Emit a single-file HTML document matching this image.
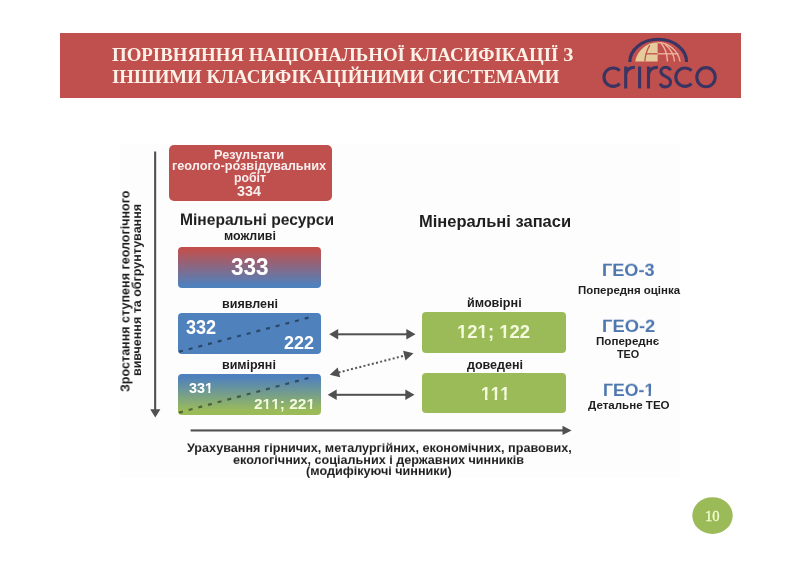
<!DOCTYPE html>
<html><head><meta charset="utf-8"><style>
html,body{margin:0;padding:0;background:#fff;}
body{width:800px;height:565px;position:relative;overflow:hidden;font-family:"Liberation Sans",sans-serif;}
.t{position:absolute;white-space:nowrap;line-height:1;will-change:transform;}
.r{position:absolute;}
</style></head><body>
<div class="r" style="left:60px;top:33px;width:681px;height:65px;background:#c0504d;"></div>
<svg class="r" style="left:0;top:0" width="800" height="565" viewBox="0 0 800 565">
 <!-- logo dome -->
 <path d="M635.2,61.5 A22.7,22.7 0 0 1 657.6,42.6 L657.6,61.5 Z" fill="#e6cc9c"/>
 <g fill="none" stroke-width="1.3">
  <path d="M649.8,45.2 Q645.6,52 644.8,61.5" stroke="#c0504d"/>
  <path d="M645.5,53.8 L657.6,53.8" stroke="#c0504d"/>
  <path d="M657.6,42.6 A22.7,22.7 0 0 1 680.1,61.5" stroke="#efb7a0"/>
  <path d="M661,43 Q667,50 667.5,61.5" stroke="#efb7a0"/>
  <path d="M665,44.3 Q673.5,51 674.5,61.5" stroke="#efb7a0"/>
  <path d="M657.6,53.8 L678.3,53.8" stroke="#efb7a0"/>
 </g>
 <path d="M629.8,62 A28.4,22.75 0 0 1 686.6,62" fill="none" stroke="#3a3462" stroke-width="3.2"/>
 <!-- crirsco -->
 <g fill="none" stroke="#3a3462" stroke-width="3.1" stroke-linecap="butt">
  <path d="M619.7,70.7 A9.2,9.2 0 1 0 619.7,83.7"/>
  <path d="M625.7,88.4 L625.7,66.5 M625.7,74.5 C626.6,69 629.6,67.4 634.8,67.4"/>
  <path d="M639.6,88.4 L639.6,66.5"/>
  <path d="M648.5,88.4 L648.5,66.5 M648.5,74.5 C649.4,69 652.4,67.4 657.8,67.4"/>
  <path d="M670.6,70.2 C669.3,68 667.6,67.3 665.6,67.3 C662.6,67.3 660.9,69.2 660.9,71.6 C660.9,77.2 670.6,75.6 670.6,82 C670.6,85 668.3,86.9 665.3,86.9 C662.7,86.9 660.9,85.5 660.1,83.6"/>
  <path d="M691.5,70.7 A9.2,9.2 0 1 0 691.5,83.7"/>
  <ellipse cx="706" cy="77.2" rx="9.2" ry="9.6"/>
 </g>
</svg>
<div class="r" style="left:120px;top:144px;width:560px;height:333px;background:#fdfdfd;"></div>
<div class="r" style="left:169px;top:144.5px;width:162.5px;height:56px;background:#c0504d;border-radius:5px;"></div>
<div class="r" style="left:178px;top:246.6px;width:143px;height:41px;background:linear-gradient(#c0504d 6%,#4f81bd 94%);border-radius:4px;"></div>
<div class="r" style="left:178px;top:313px;width:143.3px;height:41px;background:#4f81bd;border-radius:4px;"></div>
<div class="r" style="left:178px;top:374px;width:143.3px;height:41px;background:linear-gradient(#4f81bd 8%,#9bbb59 90%);border-radius:4px;"></div>
<div class="r" style="left:422px;top:311.5px;width:144px;height:41.5px;background:#9bbb59;border-radius:4px;"></div>
<div class="r" style="left:422px;top:372.5px;width:144px;height:40.5px;background:#9bbb59;border-radius:4px;"></div>
<svg class="r" style="left:0;top:0" width="800" height="565" viewBox="0 0 800 565">
 <g stroke="rgba(0,0,0,0.45)" stroke-width="2.2" stroke-dasharray="4 6" fill="none">
  <line x1="179" y1="351.8" x2="313" y2="316.5"/>
  <line x1="179" y1="412.6" x2="313" y2="376.8"/>
 </g>
 <g fill="#505050" stroke="none">
  <rect x="154.1" y="151.5" width="2.1" height="259"/>
  <path d="M150.2,409.2 L160.4,409.2 L155.3,417.6 Z"/>
  <rect x="190.6" y="429.4" width="373" height="2.1"/>
  <path d="M562.5,425.8 L571.6,430.45 L562.5,435.1 Z"/>
  <rect x="337" y="333.3" width="70" height="2.0"/>
  <path d="M329.2,334.3 L338.2,329 L338.2,339.6 Z"/>
  <path d="M415.5,334.3 L406.3,329 L406.3,339.6 Z"/>
  <rect x="336" y="393.8" width="70" height="2.0"/>
  <path d="M327.7,394.8 L336.7,389.5 L336.7,400.1 Z"/>
  <path d="M414.5,394.8 L405.3,389.5 L405.3,400.1 Z"/>
  <path d="M329.75,374.7 L337.7,367.5 L340.2,377.2 Z"/>
  <path d="M413.5,353.3 L403.1,350.8 L405.5,360.5 Z"/>
 </g>
 <line x1="338.5" y1="372.5" x2="405" y2="355.5" stroke="#555555" stroke-width="2.0" stroke-dasharray="2 2.3"/>
 <ellipse cx="712.5" cy="515.6" rx="20.2" ry="18.4" fill="#9bbb59"/>
</svg>
<div class="t" style="left:112.00px;top:46.000px;font:700 18.85px/1 'Liberation Serif', serif;color:#fcf1e8;">ПОРІВНЯННЯ НАЦІОНАЛЬНОЇ КЛАСИФІКАЦІЇ З</div>
<div class="t" style="left:112.00px;top:67.600px;font:700 18.83px/1 'Liberation Serif', serif;color:#fcf1e8;">ІНШИМИ КЛАСИФІКАЦІЙНИМИ СИСТЕМАМИ</div>
<div class="t" style="left:213.67px;top:149.400px;font:700 12.70px/1 'Liberation Sans', sans-serif;color:#f8eeee;">Результати</div>
<div class="t" style="left:172.36px;top:160.300px;font:700 12.72px/1 'Liberation Sans', sans-serif;color:#f8eeee;">геолого-розвідувальних</div>
<div class="t" style="left:233.69px;top:172.300px;font:700 12.27px/1 'Liberation Sans', sans-serif;color:#f8eeee;">робіт</div>
<div class="t" style="left:237.20px;top:184.000px;font:700 14.31px/1 'Liberation Sans', sans-serif;color:#f8eeee;transform:scaleY(1.08);transform-origin:0 12.000px;">334</div>
<div class="t" style="left:180.22px;top:211.700px;font:700 15.60px/1 'Liberation Sans', sans-serif;color:#1e1e1e;transform:scaleY(0.96);transform-origin:0 13.000px;">Мінеральні ресурси</div>
<div class="t" style="left:223.58px;top:230.000px;font:700 12.45px/1 'Liberation Sans', sans-serif;color:#1e1e1e;">можливі</div>
<div class="t" style="left:230.50px;top:257.300px;font:700 22.56px/1 'Liberation Sans', sans-serif;color:#ffffff;transform:scaleY(1.07);transform-origin:0 18.000px;">333</div>
<div class="t" style="left:221.57px;top:297.700px;font:700 12.53px/1 'Liberation Sans', sans-serif;color:#1e1e1e;">виявлені</div>
<div class="t" style="left:186.30px;top:318.800px;font:700 18.05px/1 'Liberation Sans', sans-serif;color:#ffffff;transform:scaleY(1.08);transform-origin:0 15.000px;">332</div>
<div class="t" style="left:284.40px;top:334.000px;font:700 18.05px/1 'Liberation Sans', sans-serif;color:#ffffff;transform:scaleY(1.05);transform-origin:0 15.000px;">222</div>
<div class="t" style="left:222.28px;top:358.600px;font:700 12.50px/1 'Liberation Sans', sans-serif;color:#1e1e1e;">виміряні</div>
<div class="t" style="left:188.70px;top:380.500px;font:700 14.38px/1 'Liberation Sans', sans-serif;color:#ffffff;transform:scaleY(1.08);transform-origin:0 12.000px;">33<span style="display:inline-block;clip-path:polygon(0 0,8.00px 0,8.00px 7.88px,5.34px 7.88px,5.34px 14.38px,3.34px 14.38px,3.34px 7.88px,0 7.88px)">1</span></div>
<div class="t" style="left:254.40px;top:396.100px;font:700 15.44px/1 'Liberation Sans', sans-serif;color:#f4fadc;">2<span style="display:inline-block;clip-path:polygon(0 0,8.59px 0,8.59px 8.59px,5.73px 8.59px,5.73px 15.44px,3.59px 15.44px,3.59px 8.59px,0 8.59px)">1</span><span style="display:inline-block;clip-path:polygon(0 0,8.59px 0,8.59px 8.59px,5.73px 8.59px,5.73px 15.44px,3.59px 15.44px,3.59px 8.59px,0 8.59px)">1</span>; 22<span style="display:inline-block;clip-path:polygon(0 0,8.59px 0,8.59px 8.59px,5.73px 8.59px,5.73px 15.44px,3.59px 15.44px,3.59px 8.59px,0 8.59px)">1</span></div>
<div class="t" style="left:418.67px;top:212.700px;font:700 16.51px/1 'Liberation Sans', sans-serif;color:#1e1e1e;">Мінеральні запаси</div>
<div class="t" style="left:467.37px;top:296.600px;font:700 12.61px/1 'Liberation Sans', sans-serif;color:#1e1e1e;">ймовірні</div>
<div class="t" style="left:457.07px;top:322.700px;font:700 18.50px/1 'Liberation Sans', sans-serif;color:#f4fadc;"><span style="display:inline-block;clip-path:polygon(0 0,10.29px 0,10.29px 10.20px,6.87px 10.20px,6.87px 18.50px,4.30px 18.50px,4.30px 10.20px,0 10.20px)">1</span>2<span style="display:inline-block;clip-path:polygon(0 0,10.29px 0,10.29px 10.20px,6.87px 10.20px,6.87px 18.50px,4.30px 18.50px,4.30px 10.20px,0 10.20px)">1</span>; <span style="display:inline-block;clip-path:polygon(0 0,10.29px 0,10.29px 10.20px,6.87px 10.20px,6.87px 18.50px,4.30px 18.50px,4.30px 10.20px,0 10.20px)">1</span>22</div>
<div class="t" style="left:466.60px;top:358.600px;font:700 12.52px/1 'Liberation Sans', sans-serif;color:#1e1e1e;">доведені</div>
<div class="t" style="left:480.93px;top:385.700px;font:700 17.31px/1 'Liberation Sans', sans-serif;color:#f4fadc;transform:scaleY(1.1);transform-origin:0 14.000px;"><span style="display:inline-block;clip-path:polygon(0 0,9.63px 0,9.63px 9.46px,6.43px 9.46px,6.43px 17.31px,4.02px 17.31px,4.02px 9.46px,0 9.46px)">1</span><span style="display:inline-block;clip-path:polygon(0 0,9.63px 0,9.63px 9.46px,6.43px 9.46px,6.43px 17.31px,4.02px 17.31px,4.02px 9.46px,0 9.46px)">1</span><span style="display:inline-block;clip-path:polygon(0 0,9.63px 0,9.63px 9.46px,6.43px 9.46px,6.43px 17.31px,4.02px 17.31px,4.02px 9.46px,0 9.46px)">1</span></div>
<div class="t" style="left:601.79px;top:260.700px;font:700 18.14px/1 'Liberation Sans', sans-serif;color:#4d77ae;transform:scaleY(0.95);transform-origin:0 15.000px;">ГЕО-3</div>
<div class="t" style="left:577.63px;top:285.300px;font:700 11.44px/1 'Liberation Sans', sans-serif;color:#1e1e1e;">Попередня оцінка</div>
<div class="t" style="left:601.78px;top:316.800px;font:700 18.35px/1 'Liberation Sans', sans-serif;color:#4d77ae;transform:scaleY(0.95);transform-origin:0 15.000px;">ГЕО-2</div>
<div class="t" style="left:596.32px;top:336.100px;font:700 11.58px/1 'Liberation Sans', sans-serif;color:#1e1e1e;">Попереднє</div>
<div class="t" style="left:617.00px;top:348.600px;font:700 10.85px/1 'Liberation Sans', sans-serif;color:#1e1e1e;">ТЕО</div>
<div class="t" style="left:602.82px;top:382.300px;font:700 17.65px/1 'Liberation Sans', sans-serif;color:#4d77ae;transform:scaleY(0.95);transform-origin:0 14.000px;">ГЕО-<span style="display:inline-block;clip-path:polygon(0 0,9.81px 0,9.81px 9.53px,6.55px 9.53px,6.55px 17.65px,4.10px 17.65px,4.10px 9.53px,0 9.53px)">1</span></div>
<div class="t" style="left:587.70px;top:400.200px;font:700 11.57px/1 'Liberation Sans', sans-serif;color:#1e1e1e;">Детальне ТЕО</div>
<div class="t" style="left:186.80px;top:442.300px;font:700 12.61px/1 'Liberation Sans', sans-serif;color:#1e1e1e;transform:scaleY(0.95);transform-origin:0 10.000px;">Урахування гірничих, металургійних, економічних, правових,</div>
<div class="t" style="left:232.80px;top:454.000px;font:700 12.62px/1 'Liberation Sans', sans-serif;color:#1e1e1e;transform:scaleY(0.95);transform-origin:0 10.000px;">екологічних, соціальних і державних чинників</div>
<div class="t" style="left:305.87px;top:465.400px;font:700 12.64px/1 'Liberation Sans', sans-serif;color:#1e1e1e;transform:scaleY(0.95);transform-origin:0 10.000px;">(модифікуючі чинники)</div>
<div class="t" style="left:704.87px;top:508.700px;font:400 14.63px/1 'Liberation Serif', serif;color:#f2fbd0;-webkit-text-stroke:0.35px #f2fbd0;">10</div>
<div class="t" style="left:129.20px;top:382.000px;font:700 12.55px/1 'Liberation Sans', sans-serif;color:#1e1e1e;transform:rotate(-90deg) scaleY(1.05);transform-origin:0 10.000px;">Зростання ступеня геологічного</div>
<div class="t" style="left:141.20px;top:366.275px;font:700 12.50px/1 'Liberation Sans', sans-serif;color:#1e1e1e;transform:rotate(-90deg) scaleY(0.95);transform-origin:0 10.000px;">вивчення та обгрунтування</div>
</body></html>
